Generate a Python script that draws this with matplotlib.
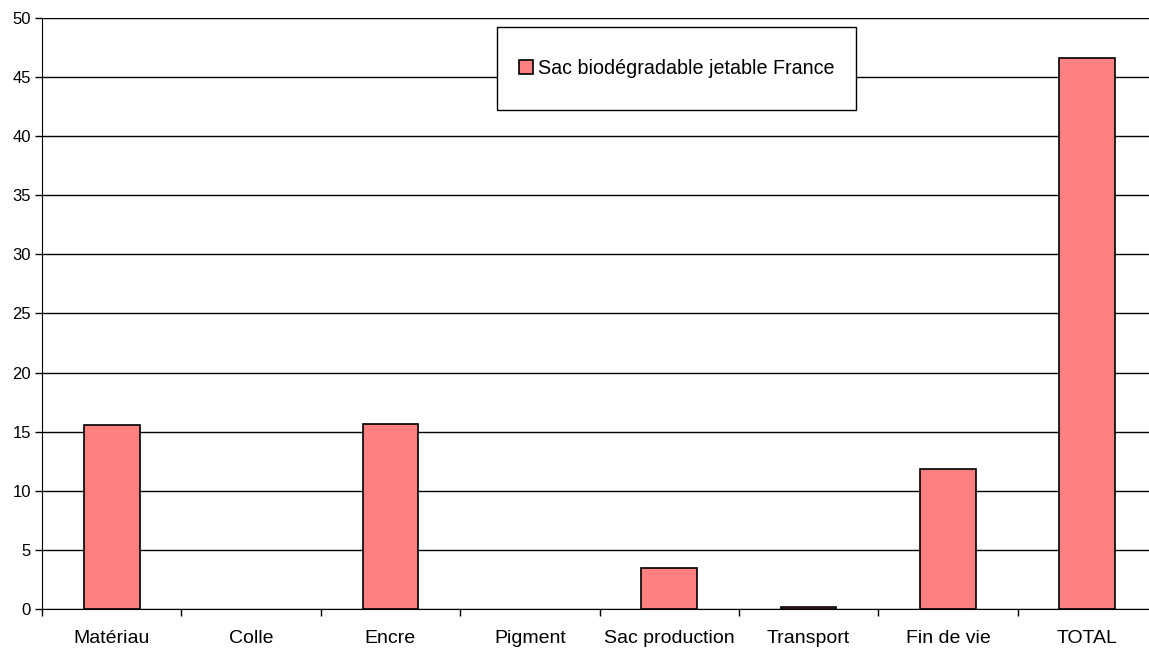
import matplotlib
matplotlib.use("Agg")
import matplotlib.pyplot as plt
from matplotlib.patches import Rectangle

categories = ["Matériau", "Colle", "Encre", "Pigment", "Sac production",
              "Transport", "Fin de vie", "TOTAL"]
values = [15.55, 0.0, 15.63, 0.0, 3.47, 0.15, 11.82, 46.6]
series_name = "Sac biodégradable jetable France"
y_ticks = list(range(0, 51, 5))

plt.rcParams["font.family"] = ["Liberation Sans", "DejaVu Sans"]

W, H = 1149, 648
fig = plt.figure(figsize=(W / 100, H / 100), dpi=100)
ax = fig.add_axes([42 / W, 39 / H, (1157 - 42) / W, (609 - 18) / H])

x = list(range(len(categories)))
bars = ax.bar(x, values, width=0.40, color="#FF8080", edgecolor="black",
              linewidth=1.2, zorder=3, label=series_name)
for b, v in zip(bars, values):
    if v == 0:
        b.set_linewidth(0)

ax.set_xlim(-0.5, len(categories) - 0.5)
ax.set_ylim(0, 50)
ax.set_yticks(y_ticks)
ax.yaxis.grid(True, color="black", linewidth=1.0, zorder=0)
ax.set_axisbelow(True)

ax.set_xticks([i + 0.5 for i in range(-1, len(categories))], minor=False)
ax.set_xticklabels([])
ax.set_xticks(x, minor=True)
ax.set_xticklabels(categories, minor=True, fontsize=14)
ax.tick_params(axis="x", which="major", direction="out", length=5, width=1, color="black")
ax.tick_params(axis="x", which="minor", length=0, pad=15)
ax.tick_params(axis="y", direction="out", length=5, width=1, labelsize=12, pad=3)

for side in ("top", "right"):
    ax.spines[side].set_visible(False)
ax.spines["left"].set_color("black")
ax.spines["bottom"].set_color("black")

# legend box
bx0, by0, bw, bh = 497 / W, 1 - 110 / H, 359 / W, 83 / H
fig.patches.append(Rectangle((bx0, by0), bw, bh, transform=fig.transFigure,
                             facecolor="white", edgecolor="black", linewidth=1.0, zorder=5))
leg = fig.legend(handles=[bars], labels=[series_name], loc="center",
                 bbox_to_anchor=(bx0, by0, bw, bh), bbox_transform=fig.transFigure,
                 frameon=False, fontsize=14.2, handlelength=0.7, handleheight=0.7,
                 handletextpad=0.25, borderaxespad=0)
leg.set_zorder(6)

fig.savefig("out.png", dpi=100)
